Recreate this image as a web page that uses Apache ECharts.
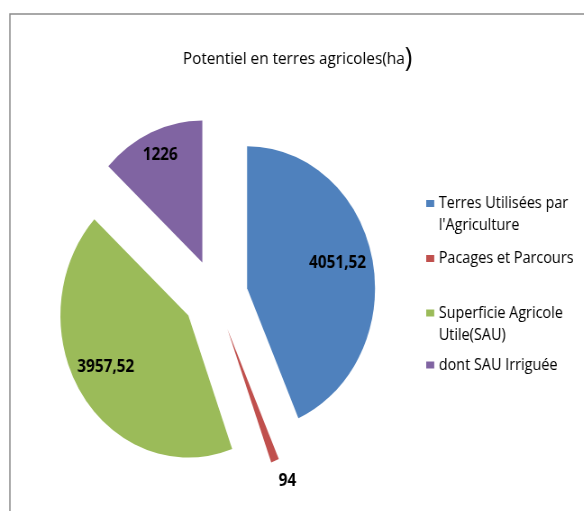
<!DOCTYPE html>
<html><head><meta charset="utf-8">
<script src="https://cdn.jsdelivr.net/npm/echarts@6/dist/echarts.min.js"></script>
<style>html,body{margin:0;padding:0;overflow:hidden;background:#fff}
#main{width:648px;height:511px;transform:scaleX(0.901);transform-origin:0 0;}</style>
</head><body><div id="main"></div>
<script>
// ---- data ----
const categories = ["Terres Utilisées par l'Agriculture", "Pacages et Parcours", "Superficie Agricole Utile(SAU)", "dont SAU Irriguée"];
const values = [4051.52, 94, 3957.52, 1226];
const legendLines = [["Terres Utilisées par", "l'Agriculture"], ["Pacages et Parcours"], ["Superficie Agricole", "Utile(SAU)"], ["dont SAU Irriguée"]];
const titleText = "Potentiel en terres agricoles(ha";

// ---- styles / layout ----
const colors = ['#4F81BD', '#C0504D', '#9BBB59', '#8064A2'];
const FONT = 'Open Sans';
const labelOffsets = [[28, -10], [39, 83], [-30, 11], [-17, -40]];
const legendTops = [170.5, 247.5, 280, 354];

const data = categories.map((name, i) => ({
  name, value: values[i], selected: true, itemStyle: { color: colors[i] }
}));

const legends = categories.map((name, i) => {
  const two = legendLines[i].length > 1;
  // a leading empty line keeps the icon aligned with the first text line
  const txt = two ? '\n' + legendLines[i].join('\n') : legendLines[i][0];
  return {
    data: [{ name, itemStyle: { color: colors[i] } }],
    orient: 'vertical', left: 473, top: legendTops[i], padding: 0,
    itemWidth: 8.9, itemHeight: 7, icon: 'rect', selectedMode: false,
    formatter: () => txt,
    textStyle: { fontFamily: FONT, fontSize: 16, color: '#000', lineHeight: 22 }
  };
});

const chart = echarts.init(document.getElementById('main'), null, { renderer: 'canvas' });
chart.setOption({
  animation: false,
  backgroundColor: '#fff',
  graphic: [{
    type: 'rect', silent: true, z: -10,
    shape: { x: 11, y: 14, width: 700, height: 600 },
    style: { fill: 'none', stroke: '#8c8c8c', lineWidth: 1.5 }
  }],
  title: {
    text: '{a|' + titleText + '}{b|)}',
    left: 203, top: 42, padding: 0,
    textStyle: {
      rich: {
        a: { fontFamily: FONT, fontSize: 17, fontWeight: 'normal', color: '#000', lineHeight: 34 },
        b: { fontFamily: FONT, fontSize: 28, fontWeight: 'normal', color: '#000', lineHeight: 34 }
      }
    }
  },
  legend: legends,
  series: [{
    type: 'pie',
    center: [239, 295.6],
    radius: 142,
    startAngle: 90,
    clockwise: true,
    selectedMode: 'multiple',
    selectedOffset: 36,
    avoidLabelOverlap: false,
    itemStyle: { borderWidth: 0 },
    label: {
      show: true, position: 'inside',
      formatter: p => String(p.value).replace('.', ','),
      fontFamily: FONT, fontSize: 17, fontWeight: 'bold', color: '#000'
    },
    labelLine: { show: false },
    labelLayout: p => ({ dx: labelOffsets[p.dataIndex][0], dy: labelOffsets[p.dataIndex][1] }),
    emphasis: { disabled: true },
    select: { itemStyle: { borderWidth: 0 } },
    data
  }]
});
</script></body></html>
